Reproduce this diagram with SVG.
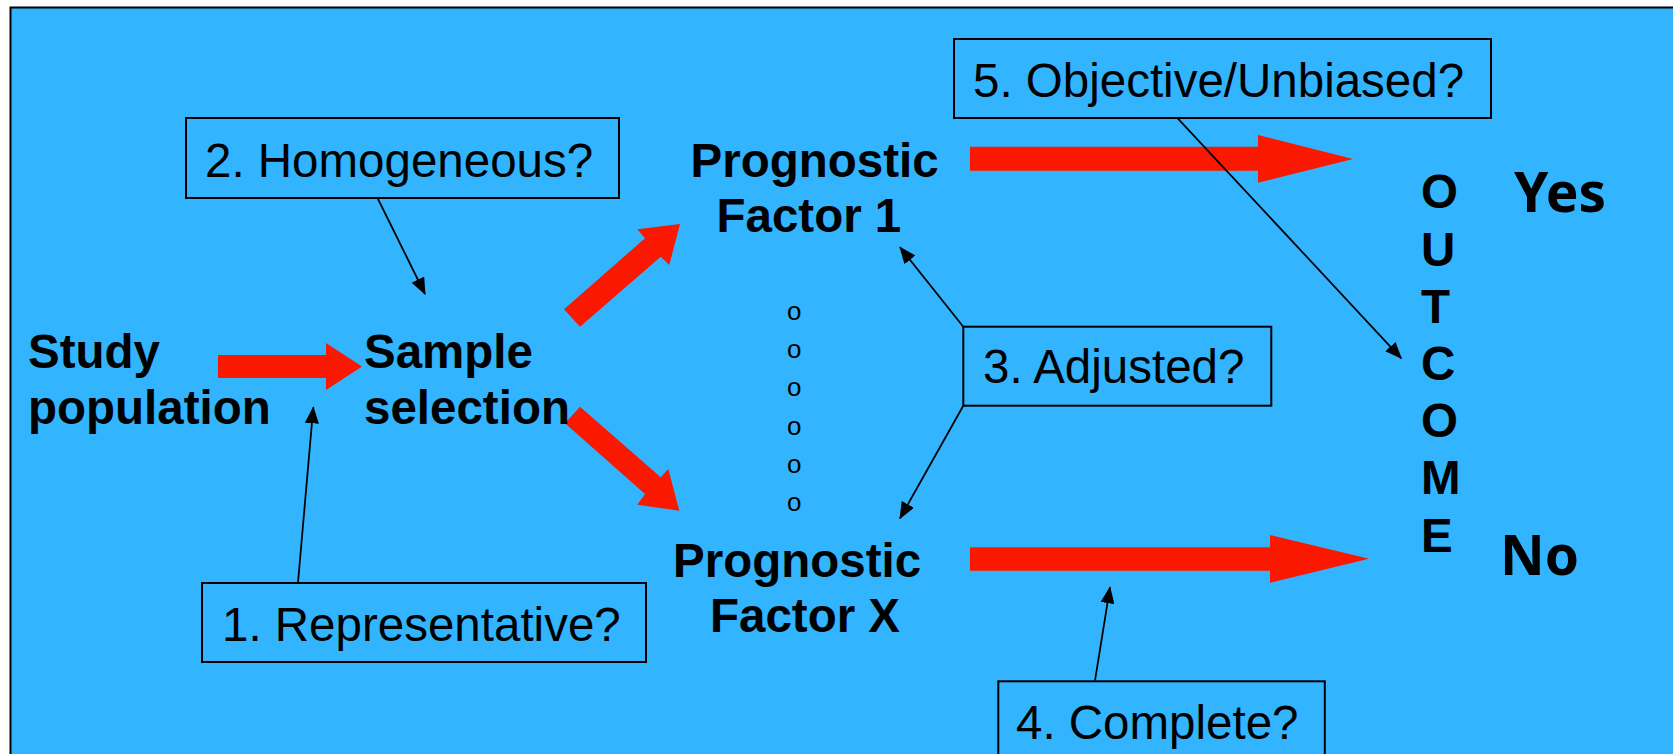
<svg xmlns="http://www.w3.org/2000/svg" width="1673" height="754" viewBox="0 0 1673 754">
<style>
.bg{fill:#32B4FF;stroke:#000;stroke-width:2}
.box{fill:none;stroke:#000;stroke-width:2}
.q{font-family:"Liberation Sans",Arial,sans-serif;font-size:47.5px;fill:#000}
.b{font-family:"Liberation Sans",Arial,sans-serif;font-size:47.5px;font-weight:bold;fill:#000}
.yn{font-family:"Noto Sans","Open Sans",sans-serif;font-size:55px;font-weight:bold;fill:#000}
.dot{font-family:"Liberation Sans",Arial,sans-serif;font-size:26px;fill:#000}
.big{fill:#FA1800}
.thin{stroke:#000;stroke-width:1.75;fill:none;marker-end:url(#ah)}
</style>
<defs>
<marker id="ah" markerUnits="userSpaceOnUse" markerWidth="17" markerHeight="14" viewBox="0 0 17 14" refX="16" refY="7" orient="auto">
<path d="M0,0 L17,7 L0,14 z" fill="#000"/>
</marker>
</defs>
<rect width="1673" height="754" fill="#fff"/>
<rect class="bg" x="10.5" y="7.5" width="1700" height="800"/>

<g id="connectors">
<polygon class="big" points="218,355 326,355 326,343 362,366.5 326,390 326,378 218,378"/>
<polygon class="big" points="564,309.3 645,238.3 637.3,229.3 680,224 669.3,265 660.7,256.7 580,326.7"/>
<polygon class="big" points="580,406.7 660.7,477.3 668.3,469 679.3,510.7 637.3,504.7 645,494 565,423.3"/>
<polygon class="big" points="970,146.7 1258,146.7 1258,135 1353,159 1258,182.7 1258,170.7 970,170.7"/>
<polygon class="big" points="970,547.3 1270,547.3 1270,535 1369,558.7 1270,582.7 1270,570.7 970,570.7"/>
<line class="thin" x1="378" y1="199" x2="425" y2="294"/>
<line class="thin" x1="298" y1="582.5" x2="313.3" y2="407.3"/>
<line class="thin" x1="963.3" y1="326.7" x2="900" y2="247.3"/>
<line class="thin" x1="963.3" y1="405.7" x2="900" y2="518.3"/>
<line class="thin" x1="1095" y1="680.7" x2="1110" y2="587.3"/>
<line class="thin" x1="1177.7" y1="118.3" x2="1401.3" y2="358.3"/>
</g>

<g id="study-population">
<text class="b" x="28" y="368">Study</text>
<text class="b" x="28" y="424">population</text>
</g>
<g id="sample-selection">
<text class="b" x="364" y="368">Sample</text>
<text class="b" x="364" y="424">selection</text>
</g>
<g id="prognostic-factor-1">
<text class="b" x="690.5" y="176.7">Prognostic</text>
<text class="b" x="716.5" y="231.7">Factor 1</text>
</g>
<g id="ellipsis-dots" text-anchor="middle">
<text class="dot" x="794.3" y="320">o</text>
<text class="dot" x="794.3" y="358.2">o</text>
<text class="dot" x="794.3" y="396.4">o</text>
<text class="dot" x="794.3" y="434.6">o</text>
<text class="dot" x="794.3" y="472.8">o</text>
<text class="dot" x="794.3" y="511">o</text>
</g>
<g id="prognostic-factor-x">
<text class="b" x="673" y="576.7">Prognostic</text>
<text class="b" x="710" y="631.7">Factor X</text>
</g>
<g id="outcome">
<text class="b" x="1421" y="208.3">O</text>
<text class="b" x="1421" y="265.5">U</text>
<text class="b" x="1421" y="322.7">T</text>
<text class="b" x="1421" y="379.9">C</text>
<text class="b" x="1421" y="437.1">O</text>
<text class="b" x="1421" y="494.3">M</text>
<text class="b" x="1421" y="551.5">E</text>
</g>
<g id="yes"><text class="yn" x="1514" y="212.3">Yes</text></g>
<g id="no"><text class="yn" x="1500" y="574.7">No</text></g>

<g id="q1-representative">
<rect class="box" x="202" y="583" width="444" height="79"/>
<text class="q" x="222" y="640.7">1. Representative?</text>
</g>
<g id="q2-homogeneous">
<rect class="box" x="186" y="118" width="433" height="80"/>
<text class="q" x="205" y="176.7">2. Homogeneous?</text>
</g>
<g id="q3-adjusted">
<rect class="box" x="963.3" y="326.7" width="308" height="79"/>
<text class="q" x="983" y="383.3">3. Adjusted?</text>
</g>
<g id="q4-complete">
<rect class="box" x="998.3" y="681.3" width="326.5" height="79"/>
<text class="q" x="1016" y="739">4. Complete?</text>
</g>
<g id="q5-objective">
<rect class="box" x="954" y="39" width="537" height="79"/>
<text class="q" x="973" y="96.7">5. Objective/Unbiased?</text>
</g>
</svg>
